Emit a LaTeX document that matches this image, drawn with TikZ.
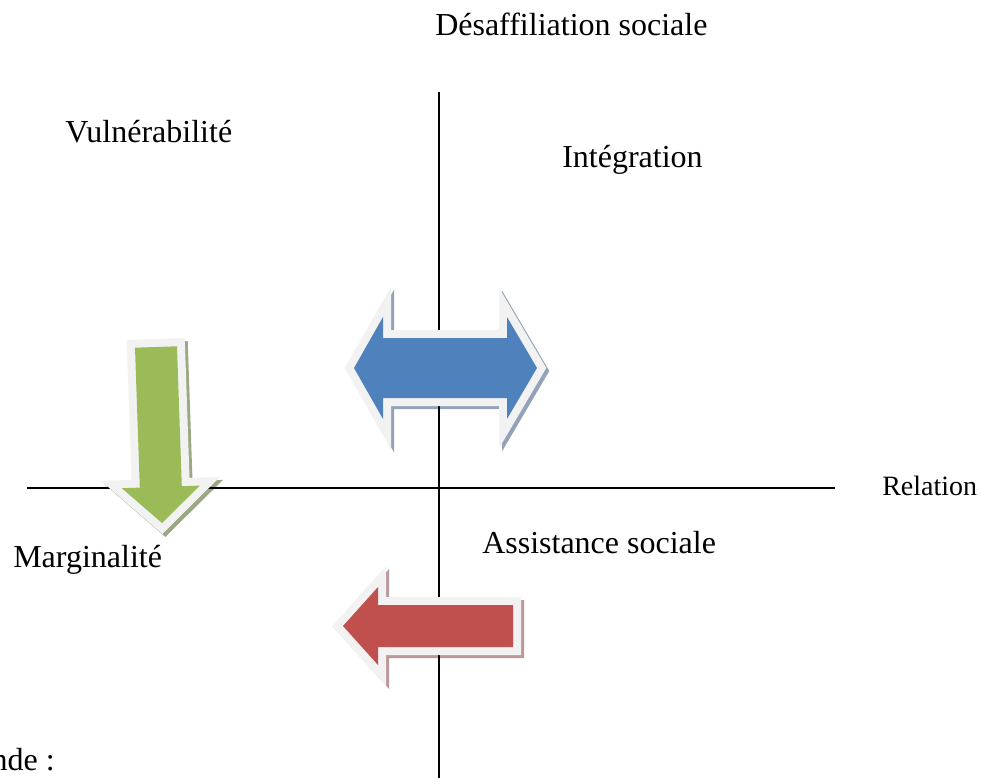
\documentclass[tikz,border=0pt]{standalone}
\usepackage{fontspec}
\setmainfont{Liberation Serif}
\definecolor{borderc}{HTML}{F2F2F2}
\definecolor{bluef}{HTML}{4F81BD}
\definecolor{blues}{HTML}{93A2B8}
\definecolor{greenf}{HTML}{9BBB59}
\definecolor{greens}{HTML}{9AA982}
\definecolor{redf}{HTML}{C0504D}
\definecolor{reds}{HTML}{BC9898}
\newcommand\BluePath{(354,368) -- (383,317) -- (383,338) -- (507,338) -- (507,317) -- (537,368) -- (507,419) -- (507,398) -- (383,398) -- (383,419) -- cycle}
\newcommand\GreenPath{(135,347.7) -- (177,346.3) -- (181.8,486.2) -- (199.8,485.6) -- (162,523) -- (121.8,488.2) -- (139.8,487.6) -- cycle}
\newcommand\RedPath{(343,626) -- (378,587) -- (378,605) -- (513,605) -- (513,647) -- (378,647) -- (378,665) -- cycle}
\begin{document}
\begin{tikzpicture}[x=0.75pt,y=-0.75pt,
  lbl/.style={anchor=base west, inner sep=0pt, font=\fontsize{24}{28}\selectfont},
  axis/.style={draw=black, line width=1.1pt},
  shadowc/.style={line width=12pt, line join=miter, miter limit=10, shift={(3,3)}},
  borderline/.style={draw=borderc, line width=12pt, line join=miter, miter limit=10}]
\useasboundingbox (0,0) rectangle (981,778);
\clip (0,0) rectangle (981,778);
\fill[white] (0,0) rectangle (981,778);
% shadows
\filldraw[shadowc, draw=blues, fill=blues] \BluePath;
\filldraw[shadowc, draw=greens, fill=greens] \GreenPath;
\filldraw[shadowc, draw=reds, fill=reds] \RedPath;
% axes
\coordinate (vtop) at (439,92);
\coordinate (vbot) at (439,778);
\coordinate (hl) at (27,488);
\coordinate (hr) at (835,488);
\draw[axis] (vtop) -- (vbot);
\draw[axis] (hl) -- (hr);
% arrows
\draw[borderline] \BluePath;
\fill[bluef] \BluePath;
\draw[borderline] \GreenPath;
\fill[greenf] \GreenPath;
\draw[borderline] \RedPath;
\fill[redf] \RedPath;
% labels
\node[lbl] (desaff) at (435,35) {Désaffiliation sociale};
\node[lbl] (vuln) at (65,142) {Vulnérabilité};
\node[lbl] (integ) at (562,167) {Intégration};
\node[lbl, font=\fontsize{21}{25}\selectfont] (rel) at (882,495) {Relation};
\node[lbl] (marg) at (13,567) {Marginalité};
\node[lbl] (assist) at (482,553) {Assistance sociale};
\node[lbl, anchor=base east] (leg) at (55,770) {Légende :};
\end{tikzpicture}
\end{document}
